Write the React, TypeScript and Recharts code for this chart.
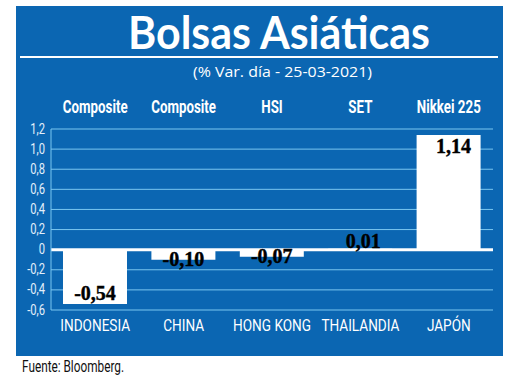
import { BarChart, Bar, XAxis, YAxis, CartesianGrid, ReferenceLine, LabelList } from 'recharts';

// datos del gráfico
const countries = ['INDONESIA', 'CHINA', 'HONG KONG', 'THAILANDIA', 'JAPÓN'];
const indexNames = ['Composite', 'Composite', 'HSI', 'SET', 'Nikkei 225'];
const changes = [-0.54, -0.1, -0.07, 0.01, 1.14];
const yTicks = [-0.6, -0.4, -0.2, 0, 0.2, 0.4, 0.6, 0.8, 1.0, 1.2];

const BLUE = '#0b66b2';
const GRID = '#7ac6f0';
const SANS = "'Roboto', sans-serif";

const data = countries.map((country, i) => ({
  country,
  index: indexNames[i],
  value: changes[i],
}));

const fmt = (v: number) => v.toFixed(2).replace('.', ',');
const fmtTick = (v: number) => (v === 0 ? '0' : v.toFixed(1).replace('.', ','));

// texto estrecho (no hay fuente condensada instalada)
function BottomTick(props: any) {
  const { x, y, payload } = props;
  return (
    <text
      transform={`translate(${x},${y}) scale(0.8,1)`}
      dy={21}
      textAnchor="middle"
      fill="#fff"
      fontFamily={SANS}
      fontSize={17}
    >
      {payload.value}
    </text>
  );
}

function TopTick(props: any) {
  const { x, y, payload } = props;
  return (
    <text
      transform={`translate(${x},${y}) scale(0.74,1)`}
      dy={-16}
      textAnchor="middle"
      fill="#fff"
      fontFamily={SANS}
      fontWeight="bold"
      fontSize={18}
    >
      {payload.value}
    </text>
  );
}

function LeftTick(props: any) {
  const { x, y, payload } = props;
  return (
    <text
      transform={`translate(${x},${y}) scale(0.8,1)`}
      dy={4.5}
      textAnchor="end"
      fill="#e3effa"
      fontFamily={SANS}
      fontSize={14}
    >
      {fmtTick(payload.value)}
    </text>
  );
}

// etiqueta de valor: dentro, debajo o encima según el tamaño de la barra
function ValueLabel(props: any) {
  const { x, y, width, height, value } = props;
  const top = Math.min(y, y + height);
  const bottom = Math.max(y, y + height);
  const small = bottom - top < 20;
  const cx = x + width / 2;
  let tx = cx;
  let ty: number;
  if (value < 0 && small) {
    ty = bottom + 6;
  } else if (value < 0) {
    ty = bottom - 4;
  } else if (small) {
    ty = top - 1;
    tx = cx + 3;
  } else {
    ty = top + 18;
    tx = cx + 5;
  }
  return (
    <text
      x={tx}
      y={ty}
      textAnchor="middle"
      fill="#000"
      stroke="#000"
      strokeWidth={0.4}
      fontFamily="'Liberation Serif', serif"
      fontWeight="bold"
      fontSize={20}
    >
      {fmt(value)}
    </text>
  );
}

export default function App() {
  return (
    <div style={{ position: 'absolute', left: 0, top: 0, width: 520, height: 386, background: '#fff' }}>
      <div style={{ position: 'absolute', left: 16, top: 6, width: 487, height: 350, background: BLUE }} />
      <svg width={520} height={386} style={{ position: 'absolute', left: 0, top: 0 }}>
        <text
          x={128}
          y={49}
          textLength={302}
          lengthAdjust="spacingAndGlyphs"
          fill="#fff"
          fontFamily="'Lato', sans-serif"
          fontWeight="bold"
          fontSize={46}
        >
          Bolsas Asiáticas
        </text>
        <rect x={20} y={56} width={478} height={2} fill="#fff" />
        <text
          x={193}
          y={77}
          textLength={179}
          lengthAdjust="spacingAndGlyphs"
          fill="#fff"
          fontFamily="'Open Sans', sans-serif"
          fontSize={15}
        >
          (% Var. día - 25-03-2021)
        </text>
        <text
          x={22}
          y={372}
          textLength={102}
          lengthAdjust="spacingAndGlyphs"
          fill="#111"
          fontFamily={SANS}
          fontSize={16}
        >
          Fuente: Bloomberg.
        </text>
      </svg>
      <div style={{ position: 'absolute', left: 0, top: 0 }}>
        <BarChart
          width={520}
          height={386}
          data={data}
          margin={{ top: 89, right: 27, bottom: 46, left: 11 }}
          barSize={64}
        >
          <CartesianGrid horizontal vertical={false} stroke={GRID} strokeWidth={1} />
          <XAxis
            xAxisId="bottom"
            dataKey="country"
            orientation="bottom"
            height={30}
            axisLine={false}
            tickLine={false}
            tickSize={0}
            tickMargin={0}
            interval={0}
            tick={BottomTick}
          />
          <XAxis
            xAxisId="top"
            dataKey="index"
            orientation="top"
            height={40}
            axisLine={false}
            tickLine={false}
            tickSize={0}
            tickMargin={0}
            interval={0}
            tick={TopTick}
          />
          <YAxis
            domain={[-0.6, 1.2]}
            ticks={yTicks}
            interval={0}
            width={40}
            axisLine={{ stroke: GRID }}
            tickLine={false}
            tickSize={0}
            tickMargin={6}
            tick={LeftTick}
          />
          <ReferenceLine xAxisId="bottom" y={0} stroke="#fff" strokeWidth={3} />
          <Bar xAxisId="bottom" dataKey="value" fill="#fff" isAnimationActive={false}>
            <LabelList dataKey="value" content={ValueLabel} />
          </Bar>
        </BarChart>
      </div>
    </div>
  );
}
